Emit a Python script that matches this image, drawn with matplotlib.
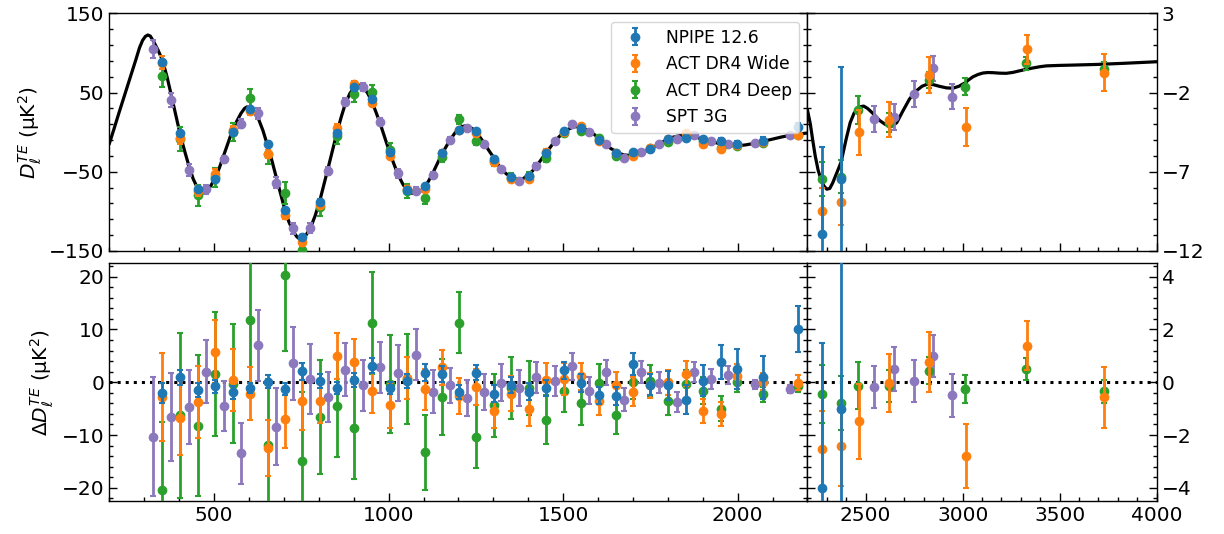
import numpy as np
import matplotlib
matplotlib.use("Agg")
import matplotlib.pyplot as plt
from matplotlib.ticker import FixedLocator, MultipleLocator

# ---------------- data: theory curve ----------------
model_ell_lo = [200, 213, 227, 240, 251, 263, 276, 286, 295, 303, 310, 317, 326, 339, 352, 365,
                377, 390, 402, 415, 428, 440, 452, 461, 468, 477, 490, 502, 515, 527, 540, 552,
                565, 577, 587, 594, 602, 614, 627, 640, 652, 665, 677, 690, 702, 714, 726, 737,
                745, 752, 763, 775, 789, 802, 814, 826, 839, 852, 864, 876, 889, 901, 914, 926,
                939, 952, 964, 976, 989, 1002, 1015, 1027, 1040, 1052, 1065, 1077, 1090, 1102,
                1114, 1126, 1139, 1152, 1165, 1177, 1189, 1201, 1210, 1218, 1228, 1240, 1251,
                1262, 1273, 1287, 1301, 1312, 1323, 1337, 1350, 1362, 1372, 1386, 1401, 1412,
                1423, 1437, 1452, 1464, 1476, 1489, 1502, 1516, 1530, 1540, 1550, 1562, 1574,
                1588, 1602, 1613, 1624, 1638, 1651, 1663, 1674, 1687, 1700, 1712, 1724, 1737,
                1750, 1762, 1774, 1788, 1801, 1813, 1825, 1838, 1851, 1862, 1874, 1888, 1901,
                1913, 1925, 1938, 1951, 1962, 1973, 1985, 1997, 2023, 2049, 2073, 2102, 2126,
                2150, 2175, 2200]
model_D_lo = [-14, 4, 24, 42, 57.5, 74, 92, 106.5, 116, 121, 122.8, 121.5, 115, 104, 90.8, 70,
              47.3, 22, -1.4, -23, -43, -59, -70.2, -74.5, -76, -74.1, -68, -58.7, -45, -29.7,
              -13, 1.8, 14, 23.9, 30, 32, 30.2, 25, 16.9, 2, -15.3, -35, -55.3, -77, -96.9,
              -113, -124.9, -132, -135, -134.5, -130, -121.9, -106, -87.8, -67, -46.2, -23,
              -0.2, 19, 36.2, 49, 56.3, 59.7, 57.3, 50, 38.9, 25, 10.6, -7, -24.3, -40, -53.7,
              -65, -73.3, -77, -77, -75, -69.7, -62, -52.2, -40, -28.2, -18, -9.2, -1.5, 4.8,
              7, 8, 7.5, 4.5, -0.2, -6.5, -13.3, -23, -32, -40, -46.7, -52.5, -56.4, -59,
              -60.5, -58.5, -53.5, -49, -43.1, -34.5, -25.5, -18.5, -11.2, -5.5, -0.3, 4,
              6.8, 7, 6, 4, 1.6, -2.5, -7.3, -12, -16.7, -21, -24, -27, -28.7, -29.2, -28.9,
              -28, -26.5, -23.8, -20.7, -18, -15.1, -11.5, -8.4, -6.5, -5.2, -4, -3.5, -4,
              -5.4, -7.2, -8.8, -10.2, -11.6, -13.3, -14.8, -15.8, -16.6, -17.1, -17.3, -16,
              -14, -11.5, -8.5, -6, -4, -2.3, -1]

model_ell_hi = [2200, 2215, 2227, 2240, 2255, 2270, 2285, 2300, 2315, 2330, 2350, 2373, 2400,
                2420, 2440, 2468, 2490, 2510, 2545, 2571, 2600, 2631, 2660, 2690, 2726, 2760,
                2790, 2820, 2850, 2880, 2916, 2950, 2980, 3010, 3030, 3053, 3080, 3105, 3130,
                3156, 3190, 3225, 3260, 3294, 3330, 3363, 3400, 3432, 3500, 3570, 3690, 3827,
                4000]
model_D_hi = [-3.1, -4.0, -5.0, -6.0, -6.9, -7.5, -7.9, -8.1, -8.05, -7.7, -7.1, -6.4, -4.9,
              -3.9, -3.3, -2.9, -2.85, -3.0, -3.4, -3.75, -4.0, -4.15, -3.9, -3.2, -2.4, -1.9,
              -1.6, -1.45, -1.5, -1.6, -1.7, -1.72, -1.6, -1.4, -1.2, -1.0, -0.85, -0.76,
              -0.73, -0.74, -0.77, -0.78, -0.72, -0.62, -0.52, -0.44, -0.36, -0.31, -0.28,
              -0.26, -0.22, -0.15, -0.05]

# ---------------- data: bandpowers ----------------
ell_grid = [352, 402, 453, 503, 553, 603, 654, 703, 752, 802, 852, 901, 952, 1003, 1053, 1103,
            1152, 1201, 1251, 1301, 1350, 1401, 1452, 1502, 1550, 1602, 1651, 1700, 1750, 1801,
            1851, 1901, 1951, 1997, 2073, 2174]

# NPIPE 12.6
npipe_D = [88.8, -0.5, -71.7, -59.5, -0.1, 29.1, -15.2, -98.2, -131.9, -87.6, -1.3, 56.7, 42.0,
           -25.4, -73.0, -67.9, -26.6, 2.9, 1.6, -34.2, -57.0, -55.3, -26.6, 2.0, 5.8, -9.8,
           -26.6, -25.4, -21.2, -9.0, -6.8, -8.5, -11.0, -14.8, -10.6, 7.0]
npipe_res = [-2.0, 0.9, -1.5, -0.8, -1.9, -1.1, 0.1, -1.3, 2.1, 0.2, -1.1, 0.4, 3.1, -1.1, 0.3,
             1.8, 1.6, -1.9, 1.8, -2.2, -0.6, -1.8, -1.1, 2.3, -0.2, -2.5, -2.6, 3.5, -0.5,
             -0.6, -3.3, 0.3, 3.8, 2.5, 0.9, 10.1]
npipe_err = [1.9, 1.4, 1.3, 1.2, 1.2, 1.0, 1.2, 1.2, 1.6, 1.3, 1.2, 1.3, 1.4, 1.2, 1.3, 1.6, 1.5,
             1.3, 1.4, 1.6, 1.5, 1.6, 1.6, 1.6, 1.7, 1.6, 1.7, 2.1, 2.0, 2.8, 2.8, 3.0, 3.2, 3.8,
             4.1, 4.4]
npipe_ell_hi = [2273, 2373]
npipe_D_hi = [-10.92, -7.45]
npipe_res_hi = [-4.0, -1.0]
npipe_err_hi = [5.5, 7.1]

# ACT DR4 Wide
wide_D = [88.0, -7.7, -74.2, -52.9, 2.2, 27.0, -27.8, -104.5, -138.2, -92.0, 5.8, 60.5, 37.4,
          -29.6, -72.0, -71.7, -25.8, 2.2, -0.8, -37.0, -59.0, -58.6, -24.5, 0.0, 7.5, -10.6,
          -26.0, -30.4, -20.5, -9.0, -1.5, -14.3, -21.0, -16.0, -12.0, -3.0]
wide_res = [-2.8, -6.8, -3.8, 5.8, 0.4, -2.2, -12.5, -7.0, -3.6, -3.6, 5.0, 3.9, -1.6, -4.4, 0.8,
            -1.3, 2.8, -2.6, -0.9, -5.5, -2.2, -5.0, 0.5, 0.6, 1.1, -3.6, -0.6, -1.8, -0.6, 0.0,
            1.6, -5.5, -6.0, 1.1, 0.1, -0.1]
wide_err = [8.4, 7.0, 6.8, 5.9, 5.9, 5.0, 5.3, 5.5, 5.4, 4.2, 4.4, 4.3, 4.2, 4.3, 4.0, 3.9, 3.4,
            3.4, 3.4, 3.2, 3.3, 3.2, 3.1, 3.1, 2.6, 2.7, 2.6, 2.7, 2.4, 2.4, 2.4, 2.3, 2.3, 2.4,
            1.6, 1.4]
wide_ell_hi = [2273, 2373, 2468, 2619, 2826, 3019, 3332, 3731]
wide_D_hi = [-9.45, -8.88, -4.5, -3.72, -0.88, -4.19, 0.74, -0.74]
wide_res_hi = [-2.54, -2.42, -1.47, -0.03, 0.78, -2.79, 1.38, -0.57]
wide_err_hi = [1.45, 1.5, 1.42, 1.11, 1.14, 1.2, 0.93, 1.16]

# ACT DR4 Deep
deep_D = [70.5, -8.5, -79.5, -57.0, 0.0, 43.0, -27.5, -76.8, -149.0, -95.0, -4.7, 48.0, 50.5,
          -23.0, -74.0, -83.0, -31.0, 16.2, -10.5, -36.5, -57.5, -55.0, -33.0, -1.0, 2.0, -7.6,
          -30.4, -28.0, -20.5, -12.5, -5.0, -10.5, -19.5, -17.5, -13.8, -3.9]
deep_res = [-20.5, -6.3, -8.2, 1.6, -0.3, 11.8, -11.9, 20.3, -14.9, -6.5, -4.5, -8.7, 11.2, -0.3,
            0.6, -13.3, -2.8, 11.3, -10.3, -4.4, -1.1, -1.1, -7.1, -1.6, -4.0, -0.2, -6.3, 0.1,
            0.3, -3.6, -0.4, -1.6, -5.0, 0.1, -2.3, -0.8]
deep_err = [13.0, 15.7, 13.3, 11.8, 11.3, 12.0, 12.5, 14.3, 13.0, 10.8, 9.7, 9.6, 9.7, 9.3, 8.5,
            7.1, 7.2, 5.8, 5.9, 6.0, 5.8, 5.2, 4.6, 4.1, 4.1, 3.6, 3.5, 3.2, 3.0, 2.7, 2.7, 2.6,
            2.3, 1.9, 1.4, 1.0]
deep_ell_hi = [2273, 2373, 2463, 2619, 2826, 3010, 3328, 3731]
deep_D_hi = [-7.45, -7.3, -3.09, -3.9, -1.2, -1.62, -0.15, -0.53]
deep_res_hi = [-0.44, -0.79, -0.13, -0.15, 0.44, -0.25, 0.5, -0.35]
deep_err_hi = [1.1, 1.03, 0.9, 0.6, 0.52, 0.54, 0.42, 0.45]

# SPT 3G
spt_ell = [326, 377, 428, 477, 527, 577, 627, 677, 726, 775, 826, 876, 926, 976, 1027, 1077,
           1126, 1177, 1224, 1273, 1323, 1374, 1423, 1476, 1524, 1574, 1624, 1674, 1724, 1774,
           1825, 1874, 1925, 1973, 2049, 2150]
spt_D = [104.7, 40.7, -47.7, -72.1, -34.2, 10.4, 23.9, -63.7, -121.3, -121.3, -49.0, 38.6, 56.7,
         13.4, -51.9, -73.8, -54.0, -9.8, 5.0, -15.2, -46.8, -61.6, -42.2, -11.0, 10.0, 0.0,
         -14.8, -32.0, -24.5, -15.2, -9.0, -3.5, -11.0, -15.2, -14.0, -3.5]
spt_res = [-10.3, -6.6, -4.7, 2.0, -4.5, -13.5, 7.0, -8.4, 3.6, 0.6, -2.8, 2.4, -0.6, 2.8, 1.8,
           5.2, -1.8, -0.6, -3.0, -1.9, -0.1, -1.1, 0.9, 0.2, 3.0, -1.6, 1.9, -3.3, 2.0, -0.1,
           -3.8, 1.9, 0.6, 1.4, -0.4, -1.3]
spt_err = [11.2, 8.4, 7.0, 6.0, 4.7, 5.7, 6.7, 7.3, 6.9, 6.6, 4.7, 5.1, 4.9, 4.8, 5.3, 4.8, 4.1,
           3.3, 3.4, 3.4, 3.5, 3.4, 3.0, 2.8, 2.5, 2.5, 2.4, 2.2, 2.1, 2.0, 1.9, 1.9, 1.9, 1.7,
           0.9, 0.8]
spt_ell_hi = [2545, 2645, 2747, 2846, 2946]
spt_D_hi = [-3.66, -3.52, -2.08, -0.46, -2.25]
spt_res_hi = [-0.19, 0.5, 0.04, 1.0, -0.5]
spt_err_hi = [0.8, 0.82, 0.8, 0.8, 0.8]

labels = ["NPIPE 12.6", "ACT DR4 Wide", "ACT DR4 Deep", "SPT 3G"]
colors = ["#1f77b4", "#ff7f0e", "#2ca02c", "#8c78bc"]

series = [
    (ell_grid, npipe_D, npipe_res, npipe_err, npipe_ell_hi, npipe_D_hi, npipe_res_hi, npipe_err_hi),
    (ell_grid, wide_D, wide_res, wide_err, wide_ell_hi, wide_D_hi, wide_res_hi, wide_err_hi),
    (ell_grid, deep_D, deep_res, deep_err, deep_ell_hi, deep_D_hi, deep_res_hi, deep_err_hi),
    (spt_ell, spt_D, spt_res, spt_err, spt_ell_hi, spt_D_hi, spt_res_hi, spt_err_hi),
]

# ---------------- figure ----------------
plt.rcParams['font.family'] = ['DejaVu Sans']
FS = 14.5
fig = plt.figure(figsize=(12.24, 5.34), dpi=100)
axTL = fig.add_axes([0.0894, 0.5300, 0.5703, 0.4448])
axTR = fig.add_axes([0.6597, 0.5300, 0.2853, 0.4448])
axBL = fig.add_axes([0.0894, 0.0618, 0.5703, 0.4448])
axBR = fig.add_axes([0.6597, 0.0618, 0.2853, 0.4448])

axTL.plot(model_ell_lo, model_D_lo, color='k', lw=2.3, zorder=1, solid_joinstyle='round')
axTR.plot(model_ell_hi, model_D_hi, color='k', lw=2.3, zorder=1, solid_joinstyle='round')
for ax in (axBL, axBR):
    ax.axhline(0, color='k', ls=':', lw=2.2, zorder=1)

ekw = dict(fmt='o', ms=6, elinewidth=2, capsize=2.5, capthick=1.5)
handles = []
for i, (s, lab, c) in enumerate(zip(series, labels, colors)):
    ell_lo, D_lo, r_lo, e_lo, ell_hi, D_hi, r_hi, e_hi = s
    z = 6 - i
    h = axTL.errorbar(ell_lo, D_lo, yerr=e_lo, color=c, label=lab, zorder=z, **ekw)
    axBL.errorbar(ell_lo, r_lo, yerr=e_lo, color=c, zorder=z, **ekw)
    axTR.errorbar(ell_hi, D_hi, yerr=e_hi, color=c, zorder=z, **ekw)
    axBR.errorbar(ell_hi, r_hi, yerr=e_hi, color=c, zorder=z, **ekw)
    handles.append(h)

# limits
for ax in (axTL, axBL):
    ax.set_xlim(200, 2200)
for ax in (axTR, axBR):
    ax.set_xlim(2200, 4000)
axTL.set_ylim(-150, 150)
axTR.set_ylim(-12, 3)
axBL.set_ylim(-22.5, 22.5)
axBR.set_ylim(-4.5, 4.5)

# ticks
axTL.yaxis.set_major_locator(FixedLocator([-150, -50, 50, 150]))
axTL.yaxis.set_minor_locator(FixedLocator(list(np.arange(-150, 151, 20))))
axTR.yaxis.set_major_locator(FixedLocator([-12, -7, -2, 3]))
axTR.yaxis.set_minor_locator(MultipleLocator(1))
axBL.yaxis.set_major_locator(MultipleLocator(10))
axBL.yaxis.set_minor_locator(MultipleLocator(2))
axBR.yaxis.set_major_locator(MultipleLocator(2))
axBR.yaxis.set_minor_locator(MultipleLocator(0.4))
for ax in (axTL, axBL):
    ax.xaxis.set_major_locator(FixedLocator([500, 1000, 1500, 2000]))
    ax.xaxis.set_minor_locator(MultipleLocator(100))
for ax in (axTR, axBR):
    ax.xaxis.set_major_locator(FixedLocator([2500, 3000, 3500, 4000]))
    ax.xaxis.set_minor_locator(MultipleLocator(100))

for ax in (axTL, axTR, axBL, axBR):
    ax.tick_params(which='both', direction='in', left=True, right=True, top=False,
                   bottom=True, labelsize=FS, width=1.0)
    ax.tick_params(which='major', length=5.5)
    ax.tick_params(which='minor', length=3.2)
    for sp in ax.spines.values():
        sp.set_linewidth(1.0)
for ax in (axTL, axTR):
    ax.tick_params(labelbottom=False)
for ax in (axTR, axBR):
    ax.tick_params(labelleft=False, labelright=True)

axTL.set_ylabel(r'$D_\ell^{TE}$ (μK$^2$)', fontsize=FS)
axBL.set_ylabel(r'$\Delta D_\ell^{TE}$ (μK$^2$)', fontsize=FS)

leg = axTL.legend(handles=handles, labels=labels, loc='upper right', fontsize=12.3,
                  framealpha=0.8)
leg.set_zorder(10)

fig.savefig('out.png', dpi=100)
